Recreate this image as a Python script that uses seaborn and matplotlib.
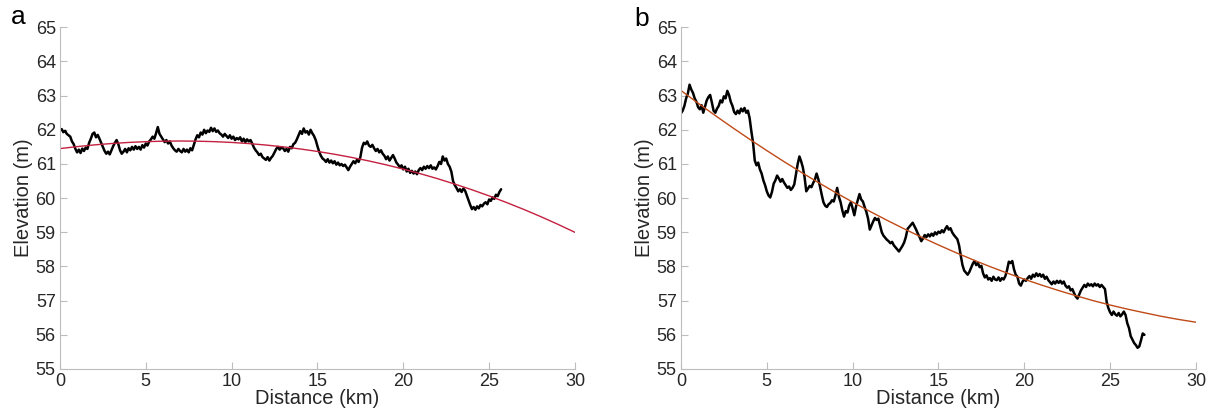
import numpy as np
import pandas as pd
import matplotlib
matplotlib.use("Agg")
import matplotlib.pyplot as plt
import seaborn as sns

# ---- Profile A: elevation (m) sampled every 0.1 km from 0 km ----
profile_a_step_km = 0.1
profile_a_elev = [
    61.98, 62.02, 61.93, 61.97, 61.88, 61.84, 61.80, 61.66, 61.58, 61.44,
    61.34, 61.42, 61.32, 61.45, 61.38, 61.48, 61.44, 61.62, 61.74, 61.88,
    61.92, 61.78, 61.85, 61.74, 61.62, 61.50, 61.38, 61.30, 61.36, 61.28,
    61.40, 61.52, 61.62, 61.70, 61.58, 61.40, 61.30, 61.36, 61.44, 61.34,
    61.46, 61.40, 61.50, 61.42, 61.52, 61.44, 61.50, 61.42, 61.55, 61.48,
    61.60, 61.54, 61.66, 61.72, 61.80, 61.74, 61.90, 62.08, 61.88, 61.80,
    61.72, 61.64, 61.70, 61.60, 61.66, 61.54, 61.46, 61.40, 61.36, 61.44,
    61.38, 61.34, 61.44, 61.36, 61.42, 61.34, 61.46, 61.40, 61.56, 61.72,
    61.84, 61.78, 61.92, 61.86, 62.00, 61.90, 61.98, 61.94, 62.06, 61.96,
    62.04, 61.94, 61.98, 61.90, 61.86, 61.80, 61.88, 61.82, 61.76, 61.84,
    61.74, 61.80, 61.70, 61.76, 61.72, 61.78, 61.66, 61.74, 61.64, 61.72,
    61.66, 61.70, 61.60, 61.48, 61.40, 61.34, 61.26, 61.30, 61.20, 61.16,
    61.12, 61.20, 61.10, 61.18, 61.24, 61.34, 61.44, 61.50, 61.42, 61.48,
    61.46, 61.38, 61.44, 61.36, 61.50, 61.46, 61.58, 61.62, 61.72, 61.84,
    61.96, 61.88, 62.04, 61.92, 61.96, 61.86, 62.00, 61.90, 61.82, 61.70,
    61.52, 61.36, 61.24, 61.16, 61.12, 61.06, 61.14, 61.04, 61.10, 61.02,
    61.08, 60.98, 61.04, 60.96, 61.00, 60.94, 60.98, 60.90, 60.82, 60.92,
    61.00, 61.08, 61.02, 61.12, 61.06, 61.20, 61.48, 61.62, 61.58, 61.66,
    61.54, 61.50, 61.56, 61.46, 61.38, 61.44, 61.34, 61.40, 61.30, 61.24,
    61.14, 61.22, 61.10, 61.18, 61.26, 61.16, 61.04, 60.98, 60.90, 60.96,
    60.84, 60.92, 60.78, 60.86, 60.74, 60.80, 60.72, 60.78, 60.70, 60.82,
    60.88, 60.82, 60.92, 60.86, 60.94, 60.88, 60.96, 60.86, 60.90, 60.84,
    60.94, 61.06, 61.00, 61.22, 61.10, 61.16, 61.00, 60.92, 60.78, 60.50,
    60.38, 60.30, 60.20, 60.26, 60.18, 60.28, 60.22, 60.08, 59.94, 59.80,
    59.68, 59.74, 59.66, 59.76, 59.70, 59.80, 59.76, 59.84, 59.88, 59.82,
    59.96, 59.92, 60.02, 59.98, 60.10, 60.06, 60.18, 60.26,
]

# ---- Profile B: elevation (m) sampled every 0.1 km from 0 km ----
profile_b_step_km = 0.1
profile_b_elev = [
    62.48, 62.56, 62.70, 62.92, 63.06, 63.32, 63.18, 63.08, 62.92, 62.82,
    62.66, 62.60, 62.72, 62.50, 62.68, 62.86, 62.96, 63.02, 62.80, 62.56,
    62.50, 62.62, 62.70, 62.86, 62.80, 62.98, 62.92, 63.14, 63.02, 62.82,
    62.70, 62.52, 62.46, 62.56, 62.48, 62.62, 62.54, 62.64, 62.50, 62.56,
    62.34, 61.96, 61.62, 61.10, 60.96, 61.04, 60.84, 60.72, 60.52, 60.38,
    60.20, 60.08, 60.02, 60.18, 60.42, 60.52, 60.66, 60.58, 60.48, 60.56,
    60.46, 60.38, 60.30, 60.34, 60.24, 60.30, 60.40, 60.70, 61.00, 61.22,
    61.08, 60.90, 60.62, 60.20, 60.28, 60.36, 60.32, 60.44, 60.54, 60.72,
    60.56, 60.34, 60.10, 59.88, 59.78, 59.74, 59.82, 59.86, 59.94, 59.90,
    60.08, 60.30, 60.04, 59.88, 59.64, 59.46, 59.62, 59.58, 59.78, 59.88,
    59.70, 59.50, 59.76, 59.94, 60.12, 59.96, 59.90, 59.74, 59.60, 59.40,
    59.08, 59.20, 59.32, 59.42, 59.36, 59.40, 59.20, 59.00, 58.90, 58.84,
    58.78, 58.74, 58.68, 58.72, 58.62, 58.56, 58.50, 58.44, 58.52, 58.60,
    58.70, 58.86, 59.10, 59.16, 59.22, 59.28, 59.18, 59.08, 58.96, 58.86,
    58.74, 58.82, 58.92, 58.86, 58.94, 58.88, 58.96, 58.90, 59.00, 58.94,
    59.02, 58.98, 59.06, 59.00, 59.10, 59.18, 59.08, 59.12, 59.00, 58.92,
    58.86, 58.80, 58.62, 58.32, 58.04, 57.88, 57.82, 57.76, 57.84, 57.96,
    58.08, 58.16, 58.04, 58.10, 57.98, 58.02, 57.80, 57.68, 57.74, 57.62,
    57.66, 57.58, 57.70, 57.62, 57.60, 57.68, 57.58, 57.66, 57.62, 57.72,
    57.90, 58.14, 58.10, 58.16, 57.92, 57.76, 57.70, 57.50, 57.44, 57.56,
    57.62, 57.58, 57.66, 57.72, 57.64, 57.76, 57.70, 57.80, 57.72, 57.78,
    57.70, 57.76, 57.64, 57.70, 57.60, 57.54, 57.48, 57.56, 57.50, 57.58,
    57.52, 57.58, 57.50, 57.56, 57.44, 57.38, 57.42, 57.30, 57.34, 57.22,
    57.12, 57.06, 57.18, 57.30, 57.38, 57.46, 57.40, 57.50, 57.44, 57.48,
    57.42, 57.50, 57.44, 57.48, 57.40, 57.46, 57.40, 57.34, 56.96, 56.78,
    56.66, 56.58, 56.68, 56.60, 56.56, 56.64, 56.54, 56.60, 56.68, 56.58,
    56.34, 56.20, 55.96, 55.86, 55.76, 55.70, 55.62, 55.66, 55.84, 56.04,
    56.00,
]

# ---- Fitted trend curves, tabulated every 1 km from 0 to 30 km ----
fit_dist_km = list(range(0, 31))
fit_a_elev = [
    61.450, 61.508, 61.558, 61.598, 61.630, 61.653, 61.667, 61.672, 61.667, 61.653,
    61.630, 61.597, 61.554, 61.502, 61.439, 61.367, 61.284, 61.191, 61.088, 60.975,
    60.850, 60.715, 60.569, 60.412, 60.245, 60.066, 59.875, 59.674, 59.461, 59.236,
    59.000,
]
fit_b_elev = [
    63.150, 62.778, 62.417, 62.065, 61.724, 61.392, 61.070, 60.759, 60.457, 60.166,
    59.885, 59.614, 59.353, 59.102, 58.861, 58.630, 58.409, 58.199, 57.997, 57.808,
    57.627, 57.457, 57.296, 57.146, 57.002, 56.872, 56.753, 56.645, 56.540, 56.449,
    56.369,
]

x_ticks = [0, 5, 10, 15, 20, 25, 30]
y_ticks = [55, 56, 57, 58, 59, 60, 61, 62, 63, 64, 65]
panel_letters = ["a", "b"]
x_label = "Distance (km)"
y_label = "Elevation (m)"

sns.set_style("white")
plt.rcParams["font.family"] = ["Liberation Sans", "DejaVu Sans"]

fig = plt.figure(figsize=(12.16, 4.16), dpi=100)
ax_a = fig.add_axes([0.0493, 0.1130, 0.4235, 0.8214])
ax_b = fig.add_axes([0.5600, 0.1130, 0.4235, 0.8214])

panels = [
    (ax_a, profile_a_elev, profile_a_step_km, fit_a_elev, "#c4203f"),
    (ax_b, profile_b_elev, profile_b_step_km, fit_b_elev, "#bf4a17"),
]

spine_color = "#bdbdbd"
text_color = "#262626"

for ax, elev, step, fit, fit_color in panels:
    prof = pd.DataFrame({"dist": np.arange(len(elev)) * step, "elev": elev})
    fitdf = pd.DataFrame({"dist": fit_dist_km, "elev": fit})
    sns.lineplot(data=prof, x="dist", y="elev", ax=ax, color="black",
                 linewidth=1.8, estimator=None, sort=False)
    sns.lineplot(data=fitdf, x="dist", y="elev", ax=ax, color=fit_color,
                 linewidth=1.0, estimator=None, sort=False)
    ax.set_xlim(0, 30)
    ax.set_ylim(55, 65)
    ax.set_xticks(x_ticks)
    ax.set_yticks(y_ticks)
    ax.set_xlabel(x_label, fontsize=14.5, color=text_color, labelpad=-1)
    ax.set_ylabel(y_label, fontsize=14.5, color=text_color, labelpad=2)
    ax.tick_params(axis="both", which="major", direction="in", length=5,
                   width=0.8, color=spine_color, labelsize=13,
                   labelcolor=text_color, pad=3, bottom=True, left=True,
                   top=False, right=False)
    for side in ["top", "right"]:
        ax.spines[side].set_visible(False)
    for side in ["left", "bottom"]:
        ax.spines[side].set_color(spine_color)
        ax.spines[side].set_linewidth(0.8)

fig.text(11 / 1216, 1 - 24 / 416, panel_letters[0], fontsize=19, color="black")
fig.text(634 / 1216, 1 - 26 / 416, panel_letters[1], fontsize=19, color="black")

fig.savefig("out.png", dpi=100)
